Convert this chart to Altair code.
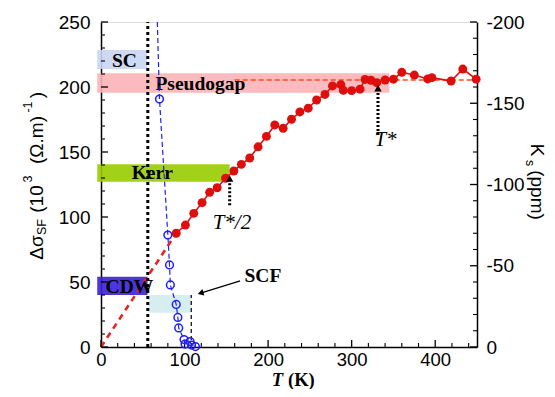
import altair as alt
import pandas as pd

# ---------------- data ----------------
# red: spin-fluctuation conductivity (left axis)
red_T = [90, 101, 111, 121, 130, 139, 149, 159, 168, 178, 188, 198, 208, 218, 228, 238, 248, 258, 268, 277,
         287, 290, 300, 310, 316, 323, 330, 340, 350, 360, 375, 391, 396, 419, 433, 449]
red_S = [87.5, 93.8, 102.8, 111, 119, 122.5, 129.8, 135.4, 140.5, 145.4, 154, 162, 170.8, 168.2, 175.2, 180.8,
         183.7, 190, 194.3, 200.8, 201.8, 197.4, 197.2, 198.3, 205.8, 205.2, 203.3, 205.4, 206, 211.3, 209.2,
         206.2, 207.2, 204.6, 213.8, 206]
# red dashed linear extrapolation and orange plateau line
ext_T = [0, 90]
ext_S = [0, 87.5]
plat_T = [160, 450]
plat_S = [205.4, 205.4]

# blue: Knight shift K_s (right axis, ppm)
blue_T = [70, 80, 82, 83, 90, 92, 93, 99.4, 100.6, 106.6, 108.4, 113]
blue_K = [-152.6, -68.9, -50.5, -38.2, -26.2, -18.2, -11.7, -4.6, -1.8, -3.3, -1.2, -0.3]
guide_T = [67.4] + blue_T
guide_K = [-200] + blue_K

# shaded bands
band_name = ["Pseudogap", "SC", "Kerr", "CDW", "SCF"]
band_T0 = [-4.5, -4.5, -4.5, -4.5, 57]
band_T1 = [345, 55, 154, 55.7, 108]
band_S0 = [195.6, 213.8, 127.2, 40, 26.4]
band_S1 = [210.5, 228.5, 140.5, 54, 40]
band_colors = ["#f9b3b7", "#c9d5f2", "#99cc00", "#3a20d8", "#d3ecee"]

# band labels (bold) and arrow labels (italic)
lab_text = ["SC", "Pseudogap", "Kerr", "CDW", "SCF"]
lab_T = [28, 119, 61.3, 34, 193.8]
lab_S = [215.6, 197.7, 129, 41.3, 49.8]
it_text = ["T*/2", "T*"]
it_T = [156.7, 340.5]
it_S = [90.5, 154.6]

# transition markers
tc_T = 56          # dotted vertical line
scf_T = 108        # dashed SCF line
scf_S = 40
half_T, half_S0, half_S1 = 154, 109, 129.5
star_T, star_S0, star_S1 = 331.5, 163, 199
scf_arrow_T = [166.5, 119.2]
scf_arrow_S = [50.8, 41.5]

x_ticks = list(range(0, 450, 20))
left_ticks = list(range(0, 251, 10))
right_ticks = list(range(-200, 1, 10))

# ---------------- chart ----------------
W, H = 376, 325
SANS = "Liberation Sans"
SERIF = "Liberation Serif"

xscale = alt.Scale(domain=[0, 450], nice=False, zero=False)
lscale = alt.Scale(domain=[0, 250], nice=False, zero=False)
rscale = alt.Scale(domain=[-200, 0], reverse=True, nice=False, zero=False)

x_axis = alt.Axis(values=[0, 100, 200, 300, 400], ticks=False, tickSize=0, grid=False, title="",
                  domainColor="black", domainWidth=1.5, labelFont=SANS, labelFontSize=18.5,
                  labelColor="black", labelPadding=3, labelFlush=False, labelOverlap=False)
l_axis = alt.Axis(values=[0, 50, 100, 150, 200, 250], ticks=False, tickSize=0, grid=False, title="",
                  domainColor="black", domainWidth=1.5, labelFont=SANS, labelFontSize=19,
                  labelColor="black", labelPadding=11, labelOverlap=False)
r_axis = alt.Axis(values=[0, -50, -100, -150, -200], orient="right", ticks=False, tickSize=0, grid=False,
                  title="", domainColor="black", domainWidth=1.5, labelFont=SANS, labelFontSize=19,
                  labelColor="black", labelPadding=9, labelOverlap=False, labelExpr="'' + datum.value")


def X(f):
    return alt.X(f, type="quantitative", scale=xscale, axis=x_axis)


def YL(f):
    return alt.Y(f, type="quantitative", scale=lscale, axis=l_axis)


def YR(f):
    return alt.Y(f, type="quantitative", scale=rscale, axis=r_axis)


one = pd.DataFrame({"a": [0]})

bands = pd.DataFrame({"name": band_name, "T0": band_T0, "T1": band_T1, "S0": band_S0, "S1": band_S1})
band_layer = alt.Chart(bands).mark_rect(opacity=0.9, clip=False).encode(
    x=X("T0"), x2="T1", y=YL("S0"), y2="S1",
    color=alt.Color("name:N", scale=alt.Scale(domain=band_name, range=band_colors), legend=None))

ext_layer = alt.Chart(pd.DataFrame({"T": ext_T, "S": ext_S})).mark_line(
    color="#e8231b", strokeWidth=2.6, strokeDash=[6, 5]).encode(x=X("T"), y=YL("S"))
plat_layer = alt.Chart(pd.DataFrame({"T": plat_T, "S": plat_S})).mark_line(
    color="#ff4a1a", strokeWidth=1.3, strokeDash=[5, 3]).encode(x=X("T"), y=YL("S"))

red_df = pd.DataFrame({"T": red_T, "S": red_S, "i": list(range(len(red_T)))})
red_line = alt.Chart(red_df).mark_line(color="#e00d0d", strokeWidth=1.6).encode(
    x=X("T"), y=YL("S"), order="i:Q")
red_pts = alt.Chart(red_df).mark_circle(color="#e00d0d", size=80, opacity=1).encode(x=X("T"), y=YL("S"))

tc_layer = alt.Chart(pd.DataFrame({"T": [tc_T], "S0": [0], "S1": [250]})).mark_rule(
    color="black", strokeWidth=3, strokeDash=[3, 3]).encode(x=X("T"), y=YL("S0"), y2="S1")
scf_layer = alt.Chart(pd.DataFrame({"T": [scf_T], "S0": [0], "S1": [scf_S]})).mark_rule(
    color="black", strokeWidth=1.2, strokeDash=[4, 3]).encode(x=X("T"), y=YL("S0"), y2="S1")

arr_df = pd.DataFrame({"T": [half_T, star_T], "S0": [half_S0, star_S0], "S1": [half_S1, star_S1]})
arr_lines = alt.Chart(arr_df).mark_rule(color="black", strokeWidth=3, strokeDash=[2, 2]).encode(
    x=X("T"), y=YL("S0"), y2="S1")
arr_heads = alt.Chart(arr_df).mark_point(shape="triangle-up", filled=True, color="black", size=55,
                                         opacity=1).encode(x=X("T"), y=YL("S1"))

scf_arr = pd.DataFrame({"T0": [scf_arrow_T[0]], "T1": [scf_arrow_T[1]],
                        "S0": [scf_arrow_S[0]], "S1": [scf_arrow_S[1]]})
scf_arr_line = alt.Chart(scf_arr).mark_rule(color="black", strokeWidth=1.3).encode(
    x=X("T0"), x2="T1", y=YL("S0"), y2="S1")
scf_arr_head = alt.Chart(scf_arr).mark_point(shape="triangle-up", filled=True, color="black", size=45,
                                             angle=253, opacity=1).encode(x=X("T1"), y=YL("S1"))

lab_layer = alt.Chart(pd.DataFrame({"t": lab_text, "T": lab_T, "S": lab_S})).mark_text(
    font=SERIF, fontSize=19.5, fontWeight="bold", color="black", align="center",
    baseline="alphabetic").encode(x=X("T"), y=YL("S"), text="t:N")
it_layer = alt.Chart(pd.DataFrame({"t": it_text, "T": it_T, "S": it_S})).mark_text(
    font=SERIF, fontSize=21, fontStyle="italic", color="black", align="center",
    baseline="alphabetic").encode(x=X("T"), y=YL("S"), text="t:N")

# inward ticks
lt = pd.DataFrame({"v": left_ticks, "L": [7 if v % 50 == 0 else 4 for v in left_ticks]})
left_major = alt.Chart(lt[lt.L == 7]).mark_rule(color="black", strokeWidth=1.3).encode(
    x=alt.value(0), x2=alt.value(7), y=YL("v"))
left_minor = alt.Chart(lt[lt.L == 4]).mark_rule(color="black", strokeWidth=1.1).encode(
    x=alt.value(0), x2=alt.value(4), y=YL("v"))
xt = pd.DataFrame({"v": x_ticks, "L": [7 if v % 100 == 0 else 4 for v in x_ticks]})
x_major = alt.Chart(xt[xt.L == 7]).mark_rule(color="black", strokeWidth=1.3).encode(
    x=X("v"), y=alt.value(H), y2=alt.value(H - 7))
x_minor = alt.Chart(xt[xt.L == 4]).mark_rule(color="black", strokeWidth=1.1).encode(
    x=X("v"), y=alt.value(H), y2=alt.value(H - 4))


def piece(txt, x, y, size, angle=0, font=SANS, weight="normal", style="normal", align="center"):
    return alt.Chart(one).mark_text(text=txt, font=font, fontSize=size, fontWeight=weight,
                                    fontStyle=style, angle=angle, align=align, baseline="middle",
                                    color="black").encode(x=alt.value(x), y=alt.value(y))


titles = [
    piece("Δσ", -64.5, 225.5, 19, 270),
    piece("SF", -59, 205, 12.5, 270),
    piece("(10", -64.5, 177, 19, 270),
    piece("3", -73, 157, 12.5, 270),
    piece("(Ω.m)", -64.5, 118, 19, 270),
    piece("-1", -73, 85, 12.5, 270),
    piece(")", -64.5, 73, 19, 270),
    piece("K", 435.5, 128, 19, 90),
    piece("s", 428.5, 141, 12.5, 90),
    piece("(ppm)", 435.5, 173, 19, 90),
    piece("T", 182, 357.5, 18.5, 0, SERIF, "bold", "italic", "right"),
    piece("(K)", 187, 357.5, 18.5, 0, SERIF, "bold", "normal", "left"),
]

left = alt.layer(band_layer, ext_layer, plat_layer, red_line, red_pts, tc_layer, scf_layer,
                 arr_lines, arr_heads, scf_arr_line, scf_arr_head, lab_layer, it_layer,
                 left_major, left_minor, x_major, x_minor, *titles)

blue_df = pd.DataFrame({"T": blue_T, "K": blue_K})
guide_df = pd.DataFrame({"T": guide_T, "K": guide_K, "i": list(range(len(guide_T)))})
blue_line = alt.Chart(guide_df).mark_line(color="#1f1fff", strokeWidth=1.2, strokeDash=[5, 3]).encode(
    x=X("T"), y=YR("K"), order="i:Q")
blue_pts = alt.Chart(blue_df).mark_point(shape="circle", filled=False, color="#1f1fff", size=60,
                                         strokeWidth=1.5, opacity=1).encode(x=X("T"), y=YR("K"))
rt = pd.DataFrame({"v": right_ticks, "L": [7 if v % 50 == 0 else 4 for v in right_ticks]})
right_major = alt.Chart(rt[rt.L == 7]).mark_rule(color="black", strokeWidth=1.3).encode(
    x=alt.value(W), x2=alt.value(W - 7), y=YR("v"))
right_minor = alt.Chart(rt[rt.L == 4]).mark_rule(color="black", strokeWidth=1.1).encode(
    x=alt.value(W), x2=alt.value(W - 4), y=YR("v"))

right = alt.layer(blue_line, blue_pts, right_major, right_minor)

chart = alt.layer(left, right).resolve_scale(y="independent").properties(
    width=W, height=H,
    autosize=alt.AutoSizeParams(type="none"),
    padding={"left": 93, "top": 14, "right": 70, "bottom": 42},
).configure_view(stroke=None).configure(background="white")

chart.save("out.html", embed_options={"renderer": "svg", "actions": False})
